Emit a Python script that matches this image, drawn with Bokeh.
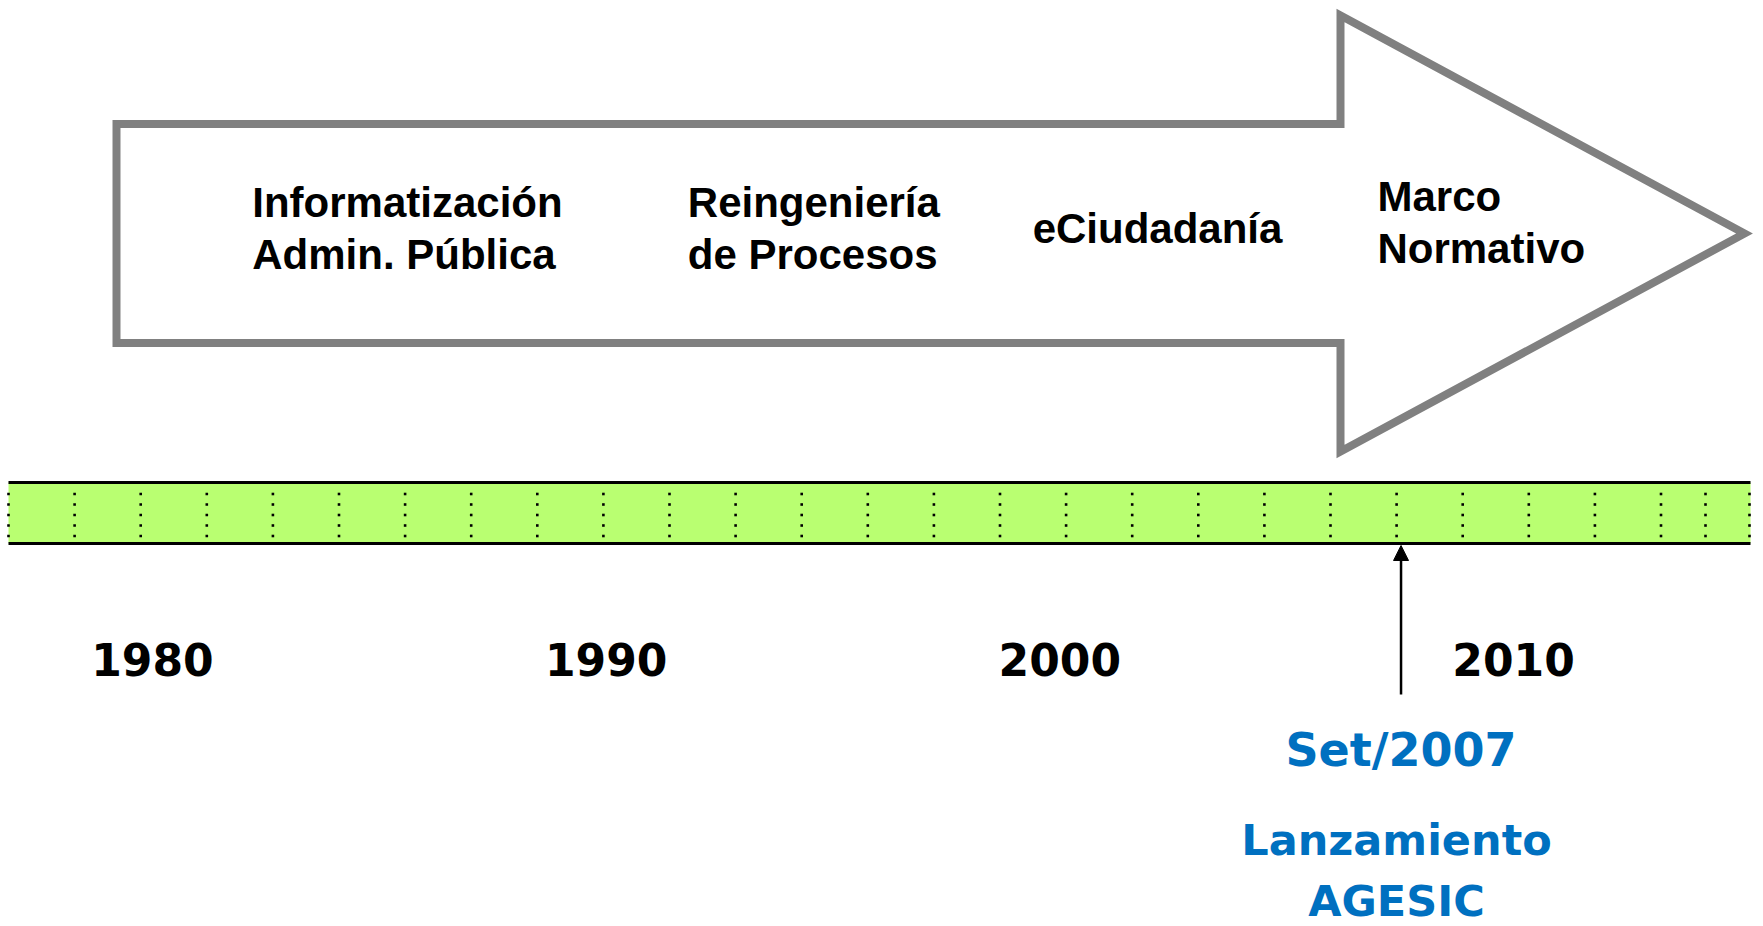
from bokeh.plotting import figure
from bokeh.models import Range1d, Arrow, NormalHead
from bokeh.core.properties import value
from bokeh.embed import file_html
from bokeh.resources import INLINE

# ---------------- data ----------------
decade_labels = ["1980", "1990", "2000", "2010"]
decade_years = [1980, 1990, 2000, 2010]

phase_labels = ["Informatización\nAdmin. Pública", "Reingeniería\nde Procesos",
                "eCiudadanía", "Marco\nNormativo"]
phase_start_years = [1982.2, 1991.8, 1999.4, 2007.0]

milestone_year = 2007.52          # Set/2007
milestone_date = "Set/2007"
milestone_event = "Lanzamiento\nAGESIC"

# ---------------- layout (screen-pixel frame) ----------------
W, H = 1763, 926
PX0 = 0
# year scale: x_px = 832.5 + (year - 1995) * 45.37
YEAR_PX_1995, PX_PER_YEAR = 832.5, 45.37
def px_to_year(px):
    return 1995 + (px - YEAR_PX_1995) / PX_PER_YEAR

p = figure(width=W, height=H, output_backend="svg", toolbar_location=None,
           x_range=Range1d(PX0, PX0 + W), y_range=Range1d(PX0 + H, PX0),
           x_axis_location=None, y_axis_location=None, min_border=0,
           background_fill_color="white", border_fill_color="white")
p.outline_line_color = None
p.xgrid.visible = False
p.ygrid.visible = False
p.extra_x_ranges = {"year": Range1d(px_to_year(PX0), px_to_year(PX0 + W))}

# ---- big gray arrow ----
shaft_l, shaft_t, shaft_b = 116, 123.5, 342.5
notch_x, head_t, head_b = 1340, 15, 451
tip_x, tip_y = 1744, 233
p.patch([shaft_l, notch_x, notch_x, tip_x, notch_x, notch_x, shaft_l],
        [shaft_t, shaft_t, head_t, tip_y, head_b, shaft_b, shaft_b],
        fill_color="white", line_color="#808080", line_width=8, line_join="miter")

# ---- phase labels ----
phase_y = [228, 228, 228, 222]
p.text(x=phase_start_years, y=phase_y, text=phase_labels, x_range_name="year",
       text_font=value("Liberation Sans"), text_font_style="bold",
       text_font_size="42px", text_color="black", text_align="left",
       text_baseline="middle", text_line_height=1.10)

# ---- green time band ----
band_l, band_r, band_t, band_b = 8, 1750, 482, 543
p.quad(left=[band_l], right=[band_r], top=[band_t], bottom=[band_b],
       fill_color="#B9FF71", line_color=None)
p.segment(x0=[band_l, band_l], y0=[band_t, band_b], x1=[band_r, band_r], y1=[band_t, band_b],
          line_color="black", line_width=3)

# decorative dotted separators
sep_x = [8 + 66.1 * k for k in range(26)] + [1705, 1749]
dot_y = [493.5, 504, 514.5, 525, 535.5]
dx, dy = [], []
for sx in sep_x:
    for yy in dot_y:
        dx.append(sx)
        dy.append(yy)
p.scatter(dx, dy, marker="square", size=2.6, fill_color="black", line_color=None)

# ---- decade labels ----
p.text(x=decade_years, y=[659] * len(decade_years), text=decade_labels, x_range_name="year",
       text_font=value("DejaVu Sans"), text_font_style="bold", text_font_size="44px",
       text_color="black", text_align="center", text_baseline="middle")

# ---- milestone arrow & labels ----
p.add_layout(Arrow(end=NormalHead(size=15, fill_color="black", line_color="black", line_width=1),
                   x_start=milestone_year, y_start=694, x_end=milestone_year, y_end=545,
                   x_range_name="year", line_color="black", line_width=2.5))
p.text(x=[milestone_year], y=[749], text=[milestone_date], x_range_name="year",
       text_font=value("DejaVu Sans"), text_font_style="bold", text_font_size="46px",
       text_color="#0070C0", text_align="center", text_baseline="middle")
p.text(x=[milestone_year - 0.1], y=[870], text=[milestone_event], x_range_name="year",
       text_font=value("DejaVu Sans"), text_font_style="bold", text_font_size="43px",
       text_color="#0070C0", text_align="center", text_baseline="middle",
       text_line_height=1.22)

open("out.html", "w").write(file_html(p, INLINE))
